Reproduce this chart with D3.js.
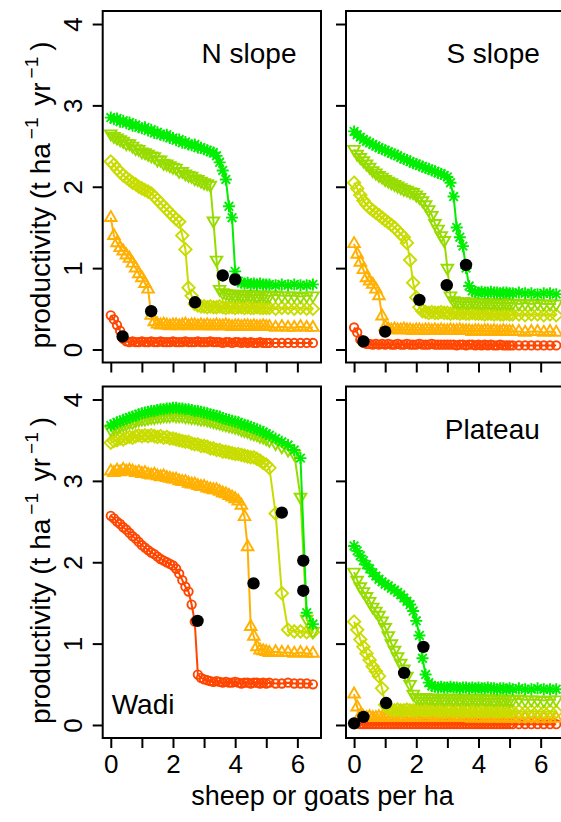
<!DOCTYPE html>
<html><head><meta charset="utf-8">
<script src="https://cdn.jsdelivr.net/npm/d3@7"></script>
<style>
body{margin:0;background:#fff}
svg{display:block}
text{font-family:"Liberation Sans",Arial,Helvetica,sans-serif;fill:#000}
</style>
</head><body>
<svg id="chart" width="561" height="822"></svg>
<script>
// ---------- DATA ----------
const grazing = [
0,0.1,0.2,0.3,0.4,0.5,0.6,0.7,0.8,0.9,
1,1.1,1.2,1.3,1.4,1.5,1.6,1.7,1.8,1.9,
2,2.1,2.2,2.3,2.4,2.5,2.6,2.7,2.8,2.9,
3,3.1,3.2,3.3,3.4,3.5,3.6,3.7,3.8,3.9,
4,4.1,4.2,4.3,4.4,4.5,4.6,4.7,4.8,4.9,
5,5.1,5.3,5.5,5.7,5.9,6.1,6.3,6.5];

const panelNames = ["N slope","S slope","Wadi","Plateau"];
const xTicks = [0,1,2,3,4,5,6];
const xTickLabels = ["0","","2","","4","","6"];
const yTicks = [0,1,2,3,4];
const xTitle = "sheep or goats per ha";

// N slope
const nSlopeRed = [
.42,.37,.30,.23,.13,.10,.09,.10,.09,.09,
.10,.09,.09,.10,.09,.09,.10,.09,.09,.09,
.10,.09,.09,.09,.10,.09,.09,.09,.10,.09,
.09,.09,.10,.09,.09,.09,.08,.09,.09,.08,
.09,.09,.08,.09,.08,.09,.08,.08,.09,.08,
.08,.08,.08,.08,.08,.08,.08,.08,.08];
const nSlopeOrange = [
1.62,1.40,1.31,1.25,1.21,1.16,1.12,1.06,1.00,0.93,
0.88,0.81,0.74,0.42,0.34,0.31,0.30,0.31,0.30,0.29,
0.30,0.30,0.29,0.30,0.31,0.29,0.30,0.30,0.29,0.30,
0.29,0.30,0.29,0.29,0.30,0.29,0.29,0.30,0.29,0.28,
0.29,0.29,0.28,0.29,0.29,0.28,0.29,0.28,0.28,0.29,
0.28,0.28,0.27,0.28,0.27,0.27,0.28,0.27,0.27];
const nSlopeYellow = [
2.31,2.27,2.22,2.18,2.14,2.11,2.08,2.05,2.03,2.00,
1.98,1.96,1.94,1.92,1.88,1.84,1.80,1.76,1.72,1.68,
1.64,1.60,1.57,1.40,1.23,0.76,0.66,0.56,0.54,0.53,
0.53,0.52,0.53,0.52,0.52,0.53,0.52,0.51,0.52,0.52,
0.51,0.52,0.52,0.51,0.52,0.51,0.51,0.52,0.51,0.51,
0.51,0.51,0.50,0.51,0.51,0.50,0.51,0.50,0.50];
const nSlopeLime = [
2.65,2.62,2.60,2.58,2.56,2.53,2.53,2.50,2.47,2.46,
2.43,2.42,2.40,2.38,2.37,2.33,2.33,2.29,2.28,2.26,
2.24,2.23,2.19,2.19,2.16,2.14,2.13,2.10,2.09,2.07,
2.05,2.04,2.02,1.58,1.10,0.74,0.70,0.69,0.68,0.68,
0.67,0.68,0.67,0.67,0.68,0.67,0.67,0.66,0.67,0.67,
0.66,0.66,0.67,0.66,0.66,0.66,0.65,0.66,0.66];
const nSlopeGreen = [
2.85,2.83,2.84,2.80,2.81,2.78,2.79,2.75,2.76,2.73,
2.72,2.73,2.69,2.70,2.66,2.67,2.64,2.63,2.64,2.60,
2.60,2.57,2.58,2.54,2.55,2.52,2.51,2.52,2.48,2.48,
2.46,2.45,2.43,2.42,2.38,2.30,2.20,2.09,1.76,1.62,
0.96,0.84,0.82,0.81,0.82,0.80,0.81,0.80,0.81,0.80,
0.80,0.80,0.79,0.80,0.79,0.80,0.79,0.79,0.80];
const nSlopeThreshX = [0.38,1.30,2.71,3.60,4.00];
const nSlopeThreshY = [0.16,0.47,0.58,0.91,0.86];

// S slope
const sSlopeRed = [
.27,.21,.12,.08,.07,.07,.06,.07,.06,.07,
.06,.07,.06,.06,.07,.06,.06,.07,.06,.06,
.06,.07,.06,.06,.06,.07,.06,.06,.06,.06,
.06,.06,.06,.05,.06,.06,.05,.06,.06,.05,
.06,.05,.06,.05,.06,.05,.05,.06,.05,.05,
.05,.05,.05,.05,.05,.05,.05,.05,.05];
const sSlopeOrange = [
1.30,1.17,1.07,0.98,0.88,0.84,0.80,0.74,0.66,0.41,
0.28,0.25,0.24,0.25,0.24,0.24,0.25,0.24,0.24,0.23,
0.24,0.24,0.23,0.24,0.24,0.23,0.24,0.23,0.24,0.23,
0.23,0.24,0.23,0.23,0.24,0.23,0.23,0.23,0.22,0.23,
0.23,0.22,0.23,0.23,0.22,0.23,0.22,0.22,0.23,0.22,
0.22,0.22,0.22,0.21,0.22,0.22,0.21,0.22,0.21];
const sSlopeYellow = [
2.05,1.98,1.90,1.83,1.78,1.74,1.71,1.68,1.65,1.62,
1.59,1.56,1.53,1.50,1.46,1.42,1.38,1.31,1.10,0.82,
0.64,0.52,0.47,0.46,0.45,0.46,0.45,0.45,0.46,0.45,
0.45,0.44,0.45,0.45,0.44,0.45,0.44,0.44,0.45,0.44,
0.44,0.44,0.43,0.44,0.44,0.43,0.44,0.43,0.43,0.44,
0.43,0.43,0.43,0.42,0.43,0.43,0.42,0.43,0.42];
const sSlopeLime = [
2.46,2.40,2.36,2.32,2.28,2.24,2.20,2.17,2.14,2.12,
2.09,2.07,2.05,2.03,2.01,1.99,1.97,1.96,1.94,1.93,
1.90,1.87,1.83,1.78,1.72,1.65,1.55,1.48,1.40,1.34,
1.00,0.66,0.60,0.59,0.58,0.59,0.58,0.58,0.59,0.58,
0.58,0.57,0.58,0.58,0.57,0.58,0.57,0.57,0.58,0.57,
0.57,0.57,0.56,0.57,0.56,0.57,0.56,0.56,0.56];
const sSlopeGreen = [
2.68,2.64,2.61,2.58,2.56,2.54,2.52,2.50,2.48,2.46,
2.45,2.43,2.41,2.40,2.38,2.36,2.34,2.33,2.31,2.29,
2.28,2.26,2.25,2.23,2.22,2.20,2.19,2.17,2.16,2.14,
2.12,2.05,1.88,1.50,1.38,1.27,1.00,0.78,0.72,0.71,
0.70,0.71,0.70,0.70,0.71,0.70,0.70,0.69,0.70,0.70,
0.69,0.69,0.70,0.69,0.69,0.68,0.69,0.69,0.68];
const sSlopeThreshX = [0.30,1.00,2.10,2.98,3.60];
const sSlopeThreshY = [0.10,0.22,0.61,0.79,1.04];

// Wadi
const wadiRed = [
2.57,2.54,2.50,2.47,2.43,2.40,2.36,2.32,2.29,2.25,
2.21,2.18,2.15,2.12,2.10,2.07,2.04,2.02,2.00,1.98,
1.96,1.92,1.86,1.78,1.70,1.64,1.48,1.27,0.62,0.58,
0.56,0.55,0.54,0.53,0.54,0.53,0.52,0.53,0.52,0.52,
0.53,0.52,0.51,0.52,0.52,0.51,0.52,0.52,0.51,0.52,
0.51,0.52,0.51,0.51,0.52,0.51,0.51,0.51,0.50];
const wadiOrange = [
3.12,3.10,3.13,3.11,3.14,3.12,3.13,3.12,3.10,3.11,
3.09,3.10,3.08,3.07,3.08,3.06,3.05,3.06,3.04,3.03,
3.02,3.02,3.00,2.99,2.99,2.97,2.96,2.96,2.94,2.93,
2.93,2.91,2.90,2.89,2.89,2.87,2.85,2.84,2.82,2.80,
2.78,2.75,2.70,2.56,2.19,1.21,1.09,0.96,0.92,0.91,
0.90,0.89,0.90,0.89,0.89,0.88,0.89,0.88,0.88];
const wadiYellow = [
3.47,3.49,3.50,3.52,3.51,3.53,3.54,3.53,3.55,3.56,
3.55,3.56,3.55,3.56,3.55,3.54,3.55,3.53,3.54,3.52,
3.52,3.51,3.50,3.49,3.48,3.48,3.46,3.45,3.45,3.43,
3.43,3.42,3.40,3.40,3.38,3.38,3.36,3.36,3.35,3.34,
3.33,3.33,3.32,3.31,3.30,3.29,3.29,3.27,3.25,3.22,
3.20,3.16,2.60,1.62,1.17,1.15,1.15,1.14,1.14];
const wadiLime = [
3.63,3.65,3.66,3.68,3.69,3.70,3.72,3.72,3.74,3.75,
3.76,3.76,3.77,3.78,3.78,3.79,3.79,3.80,3.80,3.80,
3.81,3.80,3.80,3.80,3.79,3.79,3.78,3.78,3.77,3.76,
3.76,3.75,3.74,3.73,3.72,3.71,3.70,3.69,3.68,3.67,
3.66,3.65,3.63,3.62,3.61,3.59,3.58,3.57,3.55,3.54,
3.52,3.50,3.46,3.42,3.38,3.33,2.80,1.30,1.15];
const wadiGreen = [
3.68,3.70,3.72,3.73,3.75,3.76,3.78,3.79,3.80,3.82,
3.83,3.84,3.85,3.86,3.86,3.87,3.88,3.88,3.89,3.89,
3.90,3.90,3.89,3.89,3.88,3.88,3.87,3.86,3.86,3.85,
3.84,3.83,3.82,3.81,3.80,3.79,3.77,3.76,3.75,3.74,
3.73,3.72,3.70,3.69,3.68,3.66,3.65,3.63,3.62,3.60,
3.58,3.56,3.52,3.48,3.44,3.38,3.28,1.38,1.24];
const wadiThreshX = [2.79,4.59,5.50,6.19,6.19];
const wadiThreshY = [1.28,1.74,2.61,2.02,1.65];

// Plateau
const plateauRed = [
.03,.02,.01,.01,.01,.01,.01,.01,.01,.01,
.01,.01,.01,.01,.01,.01,.01,.01,.01,.01,
.01,.01,.01,.01,.01,.01,.01,.01,.01,.01,
.01,.01,.01,.01,.01,.01,.01,.01,.01,.01,
.01,.01,.01,.01,.01,.01,.01,.01,.01,.01,
.01,.01,.01,.01,.01,.01,.01,.01,.01];
const plateauOrange = [
.38,.22,.12,.10,.09,.10,.09,.09,.10,.09,
.09,.10,.09,.09,.09,.10,.09,.09,.09,.09,
.10,.09,.09,.09,.09,.09,.10,.09,.09,.09,
.09,.09,.09,.10,.09,.09,.09,.09,.08,.09,
.09,.09,.08,.09,.09,.08,.09,.09,.08,.09,
.08,.09,.08,.08,.09,.08,.08,.08,.08];
const plateauYellow = [
1.27,1.17,1.05,0.96,0.88,0.80,0.72,0.66,0.60,0.45,
0.25,0.20,0.19,0.18,0.19,0.18,0.18,0.19,0.18,0.18,
0.18,0.19,0.18,0.18,0.18,0.19,0.18,0.18,0.18,0.17,
0.18,0.18,0.17,0.18,0.18,0.17,0.18,0.18,0.17,0.18,
0.17,0.18,0.17,0.17,0.18,0.17,0.17,0.17,0.18,0.17,
0.17,0.17,0.17,0.16,0.17,0.17,0.16,0.17,0.16];
const plateauLime = [
1.88,1.78,1.70,1.64,1.58,1.52,1.45,1.40,1.35,1.28,
1.20,1.10,1.00,0.92,0.84,0.76,0.69,0.60,0.50,0.38,
0.34,0.33,0.33,0.34,0.33,0.33,0.32,0.33,0.33,0.32,
0.33,0.33,0.32,0.33,0.32,0.33,0.32,0.32,0.33,0.32,
0.32,0.33,0.32,0.32,0.32,0.31,0.32,0.32,0.31,0.32,
0.31,0.31,0.32,0.31,0.31,0.31,0.30,0.31,0.31];
const plateauGreen = [
2.20,2.14,2.08,2.02,1.97,1.92,1.87,1.83,1.79,1.76,
1.73,1.71,1.68,1.66,1.63,1.60,1.56,1.52,1.48,1.40,
1.28,1.10,0.82,0.62,0.52,0.48,0.47,0.46,0.47,0.46,
0.46,0.47,0.46,0.46,0.45,0.46,0.46,0.45,0.46,0.45,
0.46,0.45,0.45,0.46,0.45,0.45,0.44,0.45,0.45,0.44,
0.45,0.44,0.45,0.44,0.44,0.45,0.44,0.44,0.44];
const plateauThreshX = [0.00,0.30,1.03,1.61,2.23];
const plateauThreshY = [0.02,0.10,0.27,0.64,0.96];

// ---------- STYLE ----------
const seriesColors = ["#FF4500","#FFB000","#C8DC00","#96DC00","#00EE00"];
const seriesShapes = [
  "M4.2,0A4.2,4.2 0 1,1 -4.2,0A4.2,4.2 0 1,1 4.2,0Z",
  "M0,-6.6L5.8,3.4L-5.8,3.4Z",
  "M0,-6.2L6.2,0L0,6.2L-6.2,0Z",
  "M0,6.6L5.8,-3.4L-5.8,-3.4Z",
  "M-6,0H6M0,-6V6M-4.3,-4.3L4.3,4.3M-4.3,4.3L4.3,-4.3"
];
const FONT = '"Liberation Sans",Arial,Helvetica,sans-serif';

const svg = d3.select("#chart");
const W = 218.3, H = 351.5;
const colLeft = [102.7, 346], rowTop = [11, 386.5];

const panels = [
  {name: panelNames[0], col:0, row:0, series:[nSlopeRed,nSlopeOrange,nSlopeYellow,nSlopeLime,nSlopeGreen], tx:nSlopeThreshX, ty:nSlopeThreshY},
  {name: panelNames[1], col:1, row:0, series:[sSlopeRed,sSlopeOrange,sSlopeYellow,sSlopeLime,sSlopeGreen], tx:sSlopeThreshX, ty:sSlopeThreshY},
  {name: panelNames[2], col:0, row:1, series:[wadiRed,wadiOrange,wadiYellow,wadiLime,wadiGreen], tx:wadiThreshX, ty:wadiThreshY},
  {name: panelNames[3], col:1, row:1, series:[plateauRed,plateauOrange,plateauYellow,plateauLime,plateauGreen], tx:plateauThreshX, ty:plateauThreshY}
];

const defs = svg.append("defs");

panels.forEach((p, i) => {
  const left = colLeft[p.col], top = rowTop[p.row];
  const x = d3.scaleLinear().domain([-0.26, 6.76]).range([left, left + W]);
  const y = d3.scaleLinear().domain([-0.16, 4.16]).range([top + H, top]);

  defs.append("clipPath").attr("id", "clip" + i)
    .append("rect").attr("x", left).attr("y", top).attr("width", W).attr("height", H);

  const g = svg.append("g").attr("clip-path", `url(#clip${i})`);
  const line = d3.line().x(d => x(d[0])).y(d => y(d[1]));

  p.series.forEach((vals, k) => {
    const pts = grazing.map((gx, j) => [gx, vals[j]]).filter(d => d[1] !== undefined);
    const sg = g.append("g");
    sg.append("path").attr("d", line(pts))
      .attr("fill", "none").attr("stroke", seriesColors[k]).attr("stroke-width", 2);
    sg.selectAll("path.m").data(pts).join("path").attr("class", "m")
      .attr("d", seriesShapes[k])
      .attr("transform", d => `translate(${x(d[0])},${y(d[1])})`)
      .attr("fill", "none").attr("stroke", seriesColors[k]).attr("stroke-width", 1.9);
  });

  g.selectAll("circle.t").data(p.tx.map((tx, k) => [tx, p.ty[k]])).join("circle").attr("class", "t")
    .attr("cx", d => x(d[0])).attr("cy", d => y(d[1])).attr("r", 6.2).attr("fill", "#000");

  // box
  svg.append("rect").attr("x", left).attr("y", top).attr("width", W).attr("height", H)
    .attr("fill", "none").attr("stroke", "#000").attr("stroke-width", 2);

  // x axis
  const showX = p.row === 1;
  const xa = svg.append("g").attr("transform", `translate(0,${top + H})`)
    .call(d3.axisBottom(x).tickValues(xTicks).tickSize(10).tickSizeOuter(0)
      .tickFormat((d, j) => showX ? xTickLabels[j] : ""));
  xa.select(".domain").remove();
  xa.selectAll("line").attr("stroke", "#000").attr("stroke-width", 2);
  xa.selectAll("text").attr("y", 35).attr("dy", null)
    .style("font-family", FONT).style("font-size", "26px").attr("fill", "#000");

  // y axis
  const showY = p.col === 0;
  const ya = svg.append("g").attr("transform", `translate(${left},0)`)
    .call(d3.axisLeft(y).tickValues(yTicks).tickSize(10).tickSizeOuter(0)
      .tickFormat(d => showY ? String(d) : ""));
  ya.select(".domain").remove();
  ya.selectAll("line").attr("stroke", "#000").attr("stroke-width", 2);
  ya.selectAll("text").attr("transform", "rotate(-90)").attr("x", 0).attr("y", -21).attr("dy", null)
    .attr("text-anchor", "middle")
    .style("font-family", FONT).style("font-size", "26px").attr("fill", "#000");

  // panel title
  if (p.name === "Wadi") {
    svg.append("text").attr("x", left + 9).attr("y", top + H - 24)
      .attr("font-size", 28).text(p.name);
  } else {
    svg.append("text").attr("x", left + W - 24.5).attr("y", top + 52)
      .attr("text-anchor", "end").attr("font-size", 28).text(p.name);
  }

  // y title
  if (showY) {
    const t = svg.append("text")
      .attr("transform", `translate(50,${top + 184}) rotate(-90)`)
      .attr("text-anchor", "middle").attr("font-size", 28);
    t.append("tspan").text("productivity (t ha");
    t.append("tspan").attr("dy", -12).attr("dx", 4).attr("font-size", 19).text("\u22121");
    t.append("tspan").attr("dy", 12).attr("dx", 4).text(" yr");
    t.append("tspan").attr("dy", -12).attr("dx", 4).attr("font-size", 19).text("\u22121");
    t.append("tspan").attr("dy", 12).attr("dx", 6).text(")");
  }
});

svg.append("text").attr("x", 322.5).attr("y", 805).attr("text-anchor", "middle")
  .attr("font-size", 27).text(xTitle);
</script>
</body></html>
